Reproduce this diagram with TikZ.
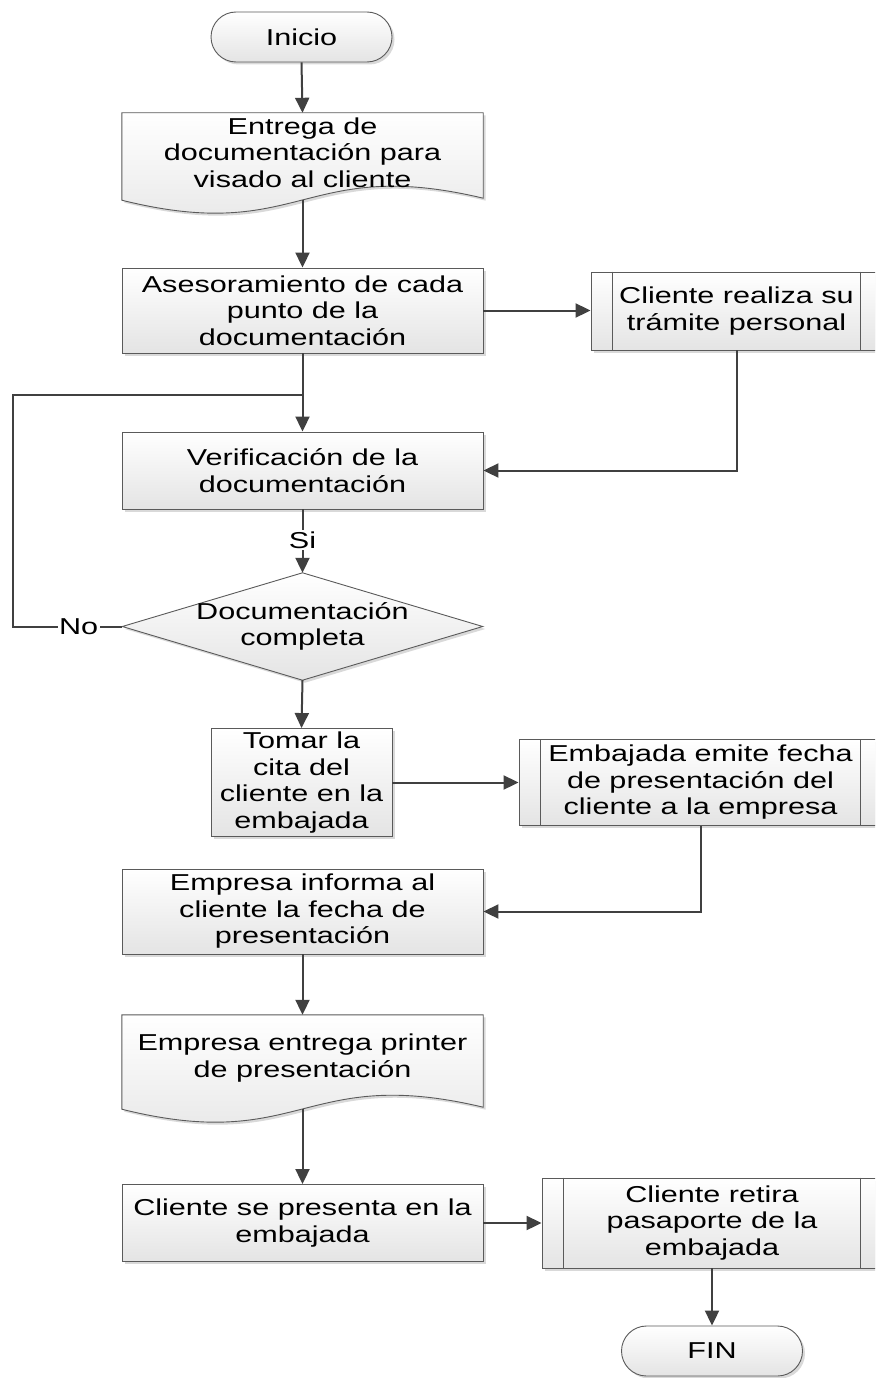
\documentclass[tikz,border=0pt]{standalone}
\usepackage{fontspec}
\setmainfont{Liberation Sans}[FakeStretch=1.33]
\usetikzlibrary{arrows.meta,shapes.misc,shadows,backgrounds,calc}

\definecolor{edge}{HTML}{5A5A5A}
\definecolor{wire}{HTML}{404040}
\definecolor{shade}{HTML}{E4E4E4}

\tikzset{
  x=1pt, y=-1pt,
  label text/.style={font=\fontsize{23}{26.5}\selectfont, align=center, inner sep=0pt, text=black},
  filled/.style={draw=edge, line width=0.9pt, top color=white, bottom color=shade,
    drop shadow={shadow xshift=2.5pt, shadow yshift=-2.5pt, fill=black, opacity=0.15}},
  procbox/.style={label text, filled, rectangle},
  termbox/.style={label text, filled, rounded rectangle, rounded rectangle arc length=180,
    minimum width=181pt, minimum height=50pt},
  docbox/.style={label text, minimum width=361pt},
  flow/.style={draw=wire, line width=2pt, -{Triangle[length=15pt,width=14pt]}},
  plainflow/.style={draw=wire, line width=2pt},
  tag/.style={label text, fill=white, inner sep=1.5pt},
  sideline/.style={draw=edge, line width=0.9pt},
}

\begin{document}
\begin{tikzpicture}
\useasboundingbox (0,0) rectangle (875,1378);
\clip (0,0) rectangle (875,1378);

% nodes
\node[termbox] (ini) at (301.5,37) {Inicio};
\node[docbox, minimum height=87pt] (d1) at (302.5,156.5) {};
\node[label text] at ([yshift=4pt]d1.center)
  {Entrega de\\documentación para\\visado al cliente};
\node[procbox, minimum width=361pt, minimum height=85pt] (ase) at (302.5,310.5)
  {Asesoramiento de cada\\punto de la\\documentación};
\node[procbox, minimum width=291pt, minimum height=78pt] (cr) at (736.5,311)
  {Cliente realiza su\\trámite personal};
\node[procbox, minimum width=361pt, minimum height=77pt] (ver) at (302.5,470.5)
  {Verificación de la\\documentación};
\node[label text, minimum width=360pt, minimum height=107pt] (dm) at (302.5,626.5)
  {Documentación\\completa};
\node[procbox, minimum width=181pt, minimum height=108pt] (tom) at (301.5,782.5)
  {Tomar la\\cita del\\cliente en la\\embajada};
\node[procbox, minimum width=363pt, minimum height=86pt] (emb) at (700.5,782.5)
  {Embajada emite fecha\\de presentación del\\cliente a la empresa};
\node[procbox, minimum width=361pt, minimum height=85pt] (emi) at (302.5,911.5)
  {Empresa informa al\\cliente la fecha de\\presentación};
\node[docbox, minimum height=94pt] (d2) at (302.5,1062) {};
\node[label text] at ([yshift=4pt]d2.center)
  {Empresa entrega printer\\de presentación};
\node[procbox, minimum width=361pt, minimum height=77pt] (csp) at (302.5,1223)
  {Cliente se presenta en la\\embajada};
\node[procbox, minimum width=340pt, minimum height=90pt] (cre) at (712,1223)
  {Cliente retira\\pasaporte de la\\embajada};
\node[termbox] (fin) at (712,1351) {FIN};

% side bars of the predefined-process boxes
\foreach \n in {cr,emb,cre}{
  \draw[sideline] ([xshift=22pt]\n.north west) -- ([xshift=22pt]\n.south west);
  \draw[sideline] ([xshift=-22pt]\n.north east) -- ([xshift=-22pt]\n.south east);
}

% document outlines and decision diamond
\begin{scope}[on background layer]
  \fill[white] (0,0) rectangle (875,1378);
  \foreach \n in {d1,d2}{
    \path[filled] (\n.south west) -- (\n.north west) -- (\n.north east)
      -- ([yshift=2pt]\n.south east)
      .. controls ([yshift=45pt]\n.south) and ([yshift=-45pt]\n.south) .. (\n.south west) -- cycle;
  }
  \path[filled] (dm.north) -- (dm.east) -- (dm.south) -- (dm.west) -- cycle;
\end{scope}

% connectors
\coordinate (jn) at (302.5,395);
\coordinate (lc) at (13,395);

\draw[flow] (ini.south) -- (d1.north);
\draw[flow] (d1.south) -- (ase.north);
\draw[flow] (ase.east) -- (ase.east -| cr.west);
\draw[flow] (cr.south) |- (ver.east);
\draw[flow] (ase.south) -- (ver.north);
\draw[flow] (ver.south) -- node[tag, pos=0.48] {Si} (dm.north);
\draw[plainflow] (dm.west) -- node[tag, pos=0.4] {No} (dm.west -| lc) -- (lc) -- (jn);
\draw[flow] (dm.south) -- (tom.north);
\draw[flow] (tom.east) -- (tom.east -| emb.west);
\draw[flow] (emb.south) |- (emi.east);
\draw[flow] (emi.south) -- (d2.north);
\draw[flow] (d2.south) -- (csp.north);
\draw[flow] (csp.east) -- (csp.east -| cre.west);
\draw[flow] (cre.south) -- (fin.north);
\end{tikzpicture}
\end{document}
